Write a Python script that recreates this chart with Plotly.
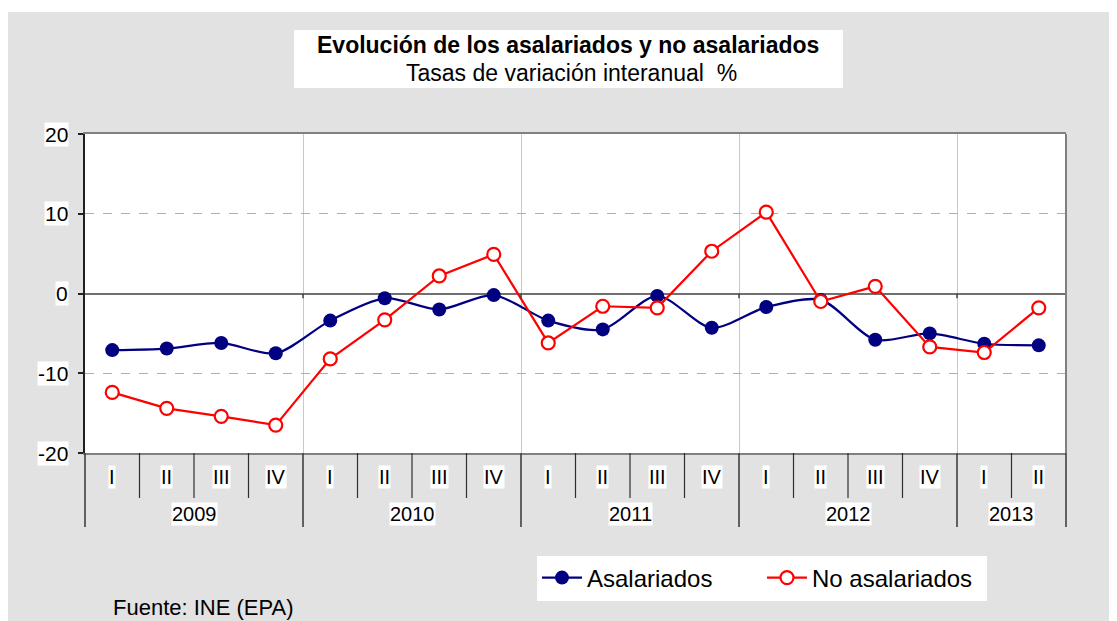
import plotly.graph_objects as go

# ---- data ----
years = ["2009"] * 4 + ["2010"] * 4 + ["2011"] * 4 + ["2012"] * 4 + ["2013"] * 2
quarters = ["I", "II", "III", "IV"] * 4 + ["I", "II"]
asalariados = [-7.1, -6.9, -6.2, -7.5, -3.4, -0.6, -2.0, -0.2, -3.4, -4.5, -0.3, -4.3,
               -1.7, -0.8, -5.8, -5.0, -6.3, -6.5]
no_asalariados = [-12.4, -14.4, -15.4, -16.5, -8.2, -3.3, 2.2, 4.9, -6.2, -1.6, -1.8, 5.3,
                  10.2, -1.0, 0.9, -6.7, -7.4, -1.8]
y_ticks = [20, 10, 0, -10, -20]
title = "Evolución de los asalariados y no asalariados"
subtitle = "Tasas de variación interanual  %"
source = "Fuente: INE (EPA)"

# ---- geometry (reference pixels); the page body adds an 8px offset ----
OFF = 8
PAGE_W, PAGE_H = 1117, 621
W, H = PAGE_W - OFF, PAGE_H - OFF
L, R, T, B = 85, 1066, 134, 453
pw, ph = R - L, B - T


def px_x(px):
    return (px - L) / pw


def px_y(py):
    return (B - py) / ph


n = len(quarters)
x = list(range(n))
FONT = "Liberation Sans, Arial, sans-serif"

fig = go.Figure()
fig.add_trace(go.Scatter(
    x=x, y=asalariados, name="Asalariados", mode="lines+markers",
    line=dict(color="#000080", width=2.2, shape="spline", smoothing=0.8),
    marker=dict(symbol="circle", size=14, color="#000080", line=dict(color="#000080", width=0)),
))
fig.add_trace(go.Scatter(
    x=x, y=no_asalariados, name="No asalariados", mode="lines+markers",
    line=dict(color="#ff0000", width=2.2),
    marker=dict(symbol="circle", size=13, color="white", line=dict(color="#ff0000", width=2.2)),
))

shapes = []
annotations = []

# white strip at the top
shapes.append(dict(type="rect", xref="paper", yref="paper", x0=-0.2, x1=1.2,
                   y0=px_y(12), y1=px_y(-20), fillcolor="white", line_width=0, layer="below"))

# title box
shapes.append(dict(type="rect", xref="paper", yref="paper", x0=px_x(294), x1=px_x(843),
                   y0=px_y(88), y1=px_y(30), fillcolor="white", line_width=0, layer="below"))
annotations.append(dict(text="<b>" + title + "</b>", xref="paper", yref="paper",
                        x=px_x(568), y=px_y(45), showarrow=False,
                        font=dict(family=FONT, size=23, color="black"),
                        xanchor="center", yanchor="middle"))
annotations.append(dict(text=subtitle, xref="paper", yref="paper",
                        x=px_x(571), y=px_y(73), showarrow=False,
                        font=dict(family=FONT, size=23, color="black"),
                        xanchor="center", yanchor="middle"))

# right border
shapes.append(dict(type="line", xref="paper", yref="paper", x0=1, x1=1, y0=0, y1=1,
                   line=dict(color="#808080", width=2)))

# year boundaries (derived from the data)
boundaries = [i - 0.5 for i in range(1, n) if years[i] != years[i - 1]]
year_edges = [-0.5] + boundaries + [n - 0.5]

# category dividers
for i in range(1, n):
    xb = i - 0.5
    is_year = xb in year_edges
    shapes.append(dict(type="line", xref="x", yref="paper", x0=xb, x1=xb,
                       y0=0, y1=px_y(527) if is_year else px_y(498),
                       line=dict(color="#404040" if is_year else "#303030",
                                 width=1.6 if is_year else 1.2)))
# outer dividers (left and right)
for xp in (0, 1):
    shapes.append(dict(type="line", xref="paper", yref="paper", x0=xp, x1=xp, y0=0, y1=px_y(527),
                       line=dict(color="#404040", width=1.6)))

# small tick marks on zero line at year boundaries
for xb in boundaries:
    shapes.append(dict(type="line", xref="x", yref="y", x0=xb, x1=xb, y0=0, y1=-0.6,
                       line=dict(color="#404040", width=1.5)))

# quarter labels
for i, q in enumerate(quarters):
    annotations.append(dict(text=q, xref="x", yref="paper", x=i, y=px_y(477),
                            showarrow=False, bgcolor="white", borderpad=0,
                            font=dict(family=FONT, size=20, color="black"),
                            xanchor="center", yanchor="middle"))
# year labels
for k in range(len(year_edges) - 1):
    idx = [i for i in range(n) if year_edges[k] < i < year_edges[k + 1]]
    yr = years[idx[0]]
    annotations.append(dict(text=yr, xref="x", yref="paper", x=sum(idx) / len(idx),
                            y=px_y(514), showarrow=False, bgcolor="white", borderpad=0,
                            font=dict(family=FONT, size=20, color="black"),
                            xanchor="center", yanchor="middle"))

# y tick labels
for v in y_ticks:
    annotations.append(dict(text=str(v), xref="paper", yref="y", x=px_x(69), y=v,
                            showarrow=False, bgcolor="white", borderpad=0,
                            font=dict(family=FONT, size=21, color="black"),
                            xanchor="right", yanchor="middle"))

# source
annotations.append(dict(text=source, xref="paper", yref="paper", x=px_x(111), y=px_y(607),
                        showarrow=False, font=dict(family=FONT, size=22, color="black"),
                        xanchor="left", yanchor="middle"))

fig.update_layout(
    width=W, height=H,
    margin=dict(l=L - OFF, r=PAGE_W - R, t=T - OFF, b=PAGE_H - B, pad=0),
    paper_bgcolor="#e2e2e2",
    plot_bgcolor="white",
    font=dict(family=FONT, size=20, color="black"),
    showlegend=True,
    legend=dict(orientation="h", x=px_x(537), xanchor="left", y=px_y(578), yanchor="middle",
                bgcolor="white", font=dict(family=FONT, size=24, color="black"),
                itemwidth=40, entrywidth=170, entrywidthmode="pixels",
                tracegroupgap=0, traceorder="normal"),
    xaxis=dict(range=[-0.5, n - 0.5], tickmode="array", tickvals=boundaries,
               showticklabels=False, ticks="", showgrid=True, gridcolor="#c8c8c8", gridwidth=1,
               zeroline=False, showline=True, linecolor="#808080", linewidth=2, mirror=True,
               fixedrange=True),
    yaxis=dict(range=[-20, 20], tickmode="array", tickvals=y_ticks, showticklabels=False,
               ticks="outside", ticklen=5, tickcolor="#202020", tickwidth=1.5,
               showgrid=True, gridcolor="#b0b0b0", griddash="dash", gridwidth=1,
               zeroline=True, zerolinecolor="#707070", zerolinewidth=1.5,
               showline=True, linecolor="#202020", linewidth=2, fixedrange=True),
    shapes=shapes,
    annotations=annotations,
)

fig.write_html("out.html")
